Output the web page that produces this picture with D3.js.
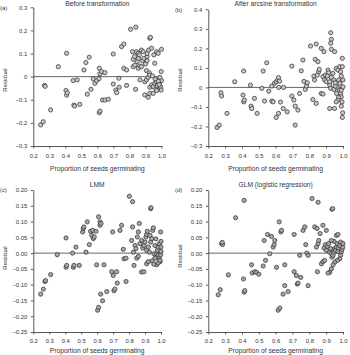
<!DOCTYPE html>
<html><head><meta charset="utf-8">
<script src="https://cdn.jsdelivr.net/npm/d3@7"></script>
<style>
body{margin:0;background:#fff}
svg{display:block}
</style>
</head><body><svg id="chart" width="350" height="355"></svg>
<script>
// ---------- DATA ----------
const panelTitles = ["Before transformation","After arcsine transformation","LMM","GLM (logistic regression)"];
const panelLetters = ["(a)","(b)","(c)","(d)"];
const xAxisTitle = "Proportion of seeds germinating";
const yAxisTitle = "Residual";
const xTicks = [0.2,0.3,0.4,0.5,0.6,0.7,0.8,0.9,1.0];
const yTicksA = [-0.3,-0.2,-0.1,0,0.1,0.2,0.3];
const yTicksB = [-0.3,-0.2,-0.1,0,0.1,0.2,0.3,0.4];
const yTicksCD = [-0.25,-0.20,-0.15,-0.10,-0.05,0,0.05,0.10,0.15,0.20];

// [proportion germinating, residual]
const pointsA = [[0.246,-0.209],[0.262,-0.195],[0.27,-0.038],[0.274,-0.042],[0.308,-0.144],[0.356,0.043],[0.408,0.101],[0.404,-0.06],[0.408,-0.08],[0.412,-0.07],[0.449,-0.017],[0.474,-0.014],[0.453,-0.123],[0.458,-0.127],[0.49,-0.12],[0.516,0.029],[0.528,0.061],[0.537,-0.076],[0.549,0.084],[0.56,-0.055],[0.574,-0.009],[0.584,-0.029],[0.595,-0.017],[0.61,-0.009],[0.612,0.036],[0.616,0.012],[0.626,0.022],[0.647,0.017],[0.612,-0.156],[0.616,-0.149],[0.632,-0.101],[0.647,-0.101],[0.668,-0.098],[0.699,0.098],[0.699,-0.032],[0.715,-0.058],[0.72,-0.069],[0.734,-0.007],[0.736,-0.046],[0.751,0.13],[0.765,0.141],[0.765,0.036],[0.782,0.029],[0.782,-0.038],[0.807,0.205],[0.84,0.214],[0.819,0.108],[0.823,0.075],[0.832,0.087],[0.823,0.043],[0.834,0.05],[0.838,-0.055],[0.844,0.108],[0.855,0.101],[0.848,0.065],[0.855,0.079],[0.862,0.094],[0.855,0.036],[0.865,0.046],[0.865,-0.014],[0.875,0.115],[0.886,0.108],[0.882,0.069],[0.89,0.079],[0.875,0.043],[0.9,0.055],[0.91,0.069],[0.91,0.087],[0.91,0.1],[0.92,0.115],[0.927,0.166],[0.931,0.17],[0.938,0.123],[0.952,0.094],[0.969,0.108],[0.979,0.101],[1.0,0.118],[0.958,0.058],[0.998,0.022],[0.906,0.026],[0.923,0.017],[0.896,-0.022],[0.906,-0.014],[0.917,-0.003],[0.927,0.007],[0.896,-0.079],[0.917,-0.089],[0.927,-0.072],[0.948,-0.072],[0.927,-0.046],[0.938,-0.036],[0.948,-0.043],[0.958,-0.029],[0.965,-0.051],[0.969,-0.022],[0.973,-0.04],[0.979,-0.014],[0.985,-0.029],[0.99,-0.051],[0.994,-0.043],[0.998,-0.058],[1.0,-0.017],[0.99,-0.003],[0.98,-0.02],[0.96,-0.01],[0.944,0.003],[0.985,-0.035],[0.97,-0.06]];

const pointsB = [[0.252,-0.205],[0.265,-0.193],[0.275,-0.027],[0.279,-0.044],[0.311,-0.133],[0.357,0.029],[0.41,0.084],[0.406,-0.039],[0.41,-0.074],[0.414,-0.065],[0.45,0.012],[0.454,-0.096],[0.458,-0.108],[0.474,-0.056],[0.49,-0.133],[0.518,-0.005],[0.526,0.084],[0.534,-0.07],[0.547,0.126],[0.559,-0.019],[0.577,0.007],[0.577,-0.07],[0.585,-0.074],[0.593,0.021],[0.603,0.029],[0.613,0.038],[0.617,0.05],[0.623,0.032],[0.619,0.0],[0.603,-0.154],[0.617,-0.133],[0.629,-0.075],[0.645,-0.108],[0.647,0.0],[0.669,-0.125],[0.696,0.109],[0.696,-0.044],[0.708,-0.065],[0.716,-0.096],[0.716,-0.193],[0.732,-0.116],[0.742,-0.031],[0.752,0.085],[0.762,0.14],[0.768,0.031],[0.776,-0.01],[0.782,0.007],[0.788,0.024],[0.807,0.212],[0.821,-0.062],[0.827,0.058],[0.831,0.038],[0.835,0.144],[0.841,0.222],[0.841,-0.082],[0.851,0.132],[0.855,0.08],[0.859,0.092],[0.847,0.063],[0.871,-0.031],[0.881,-0.034],[0.871,0.2],[0.887,0.183],[0.881,0.055],[0.891,0.038],[0.895,0.063],[0.901,0.029],[0.911,0.089],[0.915,0.075],[0.907,0.058],[0.921,0.012],[0.927,-0.005],[0.921,0.029],[0.931,0.051],[0.94,0.072],[0.946,0.038],[0.921,-0.108],[0.95,-0.108],[0.927,0.28],[0.931,0.246],[0.927,0.226],[0.931,0.195],[0.95,0.183],[0.96,0.097],[0.97,0.089],[0.98,0.106],[0.986,0.08],[0.99,0.058],[0.974,0.038],[0.982,0.021],[0.966,0.0],[0.978,-0.014],[0.986,-0.031],[0.99,-0.048],[0.962,-0.031],[0.974,-0.051],[0.99,-0.014],[0.996,0.149],[0.996,0.106],[1.0,0.038],[1.0,0.003],[0.994,-0.074],[0.99,-0.096],[0.998,-0.13],[0.996,-0.154],[0.97,-0.065],[0.96,-0.074],[0.946,-0.01],[0.954,0.007],[0.954,0.024]];

const pointsC = [[0.246,-0.13],[0.263,-0.114],[0.273,-0.09],[0.277,-0.087],[0.309,-0.068],[0.35,-0.005],[0.405,0.048],[0.405,-0.045],[0.409,-0.039],[0.446,0.0],[0.451,-0.045],[0.455,-0.039],[0.467,0.019],[0.488,-0.039],[0.509,0.067],[0.513,0.078],[0.517,0.083],[0.53,0.003],[0.538,0.099],[0.551,0.027],[0.559,0.069],[0.566,0.056],[0.572,0.072],[0.576,0.046],[0.582,0.051],[0.593,0.069],[0.597,-0.037],[0.603,-0.181],[0.609,-0.172],[0.609,0.115],[0.618,0.099],[0.618,0.088],[0.624,0.094],[0.622,-0.13],[0.634,-0.151],[0.643,-0.037],[0.66,-0.122],[0.697,0.067],[0.691,-0.059],[0.701,-0.071],[0.705,-0.119],[0.711,-0.114],[0.722,-0.059],[0.726,-0.095],[0.743,0.072],[0.753,0.088],[0.764,0.012],[0.768,-0.018],[0.781,-0.016],[0.781,-0.09],[0.802,0.18],[0.822,0.163],[0.816,0.04],[0.827,0.003],[0.822,0.083],[0.831,-0.039],[0.837,0.024],[0.843,0.014],[0.852,0.051],[0.858,0.067],[0.848,-0.016],[0.858,-0.01],[0.864,0.094],[0.868,0.03],[0.879,0.04],[0.885,0.016],[0.893,0.024],[0.9,0.035],[0.906,0.051],[0.91,0.059],[0.914,0.069],[0.91,0.009],[0.921,0.019],[0.927,0.003],[0.931,0.056],[0.935,0.035],[0.942,0.046],[0.948,0.072],[0.952,0.08],[0.962,0.024],[0.956,-0.002],[0.962,-0.016],[0.973,-0.002],[0.977,0.009],[0.983,0.019],[0.99,0.03],[0.983,-0.007],[0.99,-0.018],[0.994,-0.027],[0.998,-0.005],[1.0,0.005],[0.973,-0.037],[0.983,-0.031],[0.994,-0.023],[1.0,0.019],[0.998,0.067],[1.0,0.037],[0.878,-0.06],[0.893,-0.059],[0.91,-0.034],[0.921,-0.027],[0.935,0.141],[0.937,0.144],[0.968,0.045],[0.945,-0.025],[0.955,-0.035]];

const pointsD = [[0.259,-0.132],[0.271,-0.116],[0.279,0.03],[0.285,0.027],[0.283,0.034],[0.319,-0.069],[0.362,0.112],[0.413,0.167],[0.409,-0.082],[0.413,-0.124],[0.417,-0.119],[0.457,-0.037],[0.461,-0.063],[0.477,-0.059],[0.486,-0.061],[0.5,-0.067],[0.526,-0.041],[0.532,0.04],[0.54,-0.023],[0.552,0.059],[0.565,-0.002],[0.575,0.053],[0.585,0.019],[0.591,0.027],[0.595,0.04],[0.605,-0.045],[0.615,-0.181],[0.625,-0.174],[0.621,0.099],[0.631,0.067],[0.635,0.072],[0.644,-0.13],[0.654,-0.037],[0.654,-0.103],[0.674,-0.122],[0.71,0.059],[0.71,-0.059],[0.723,-0.071],[0.729,-0.098],[0.733,-0.095],[0.743,-0.007],[0.749,-0.077],[0.763,0.072],[0.773,0.083],[0.779,0.027],[0.785,0.0],[0.793,-0.007],[0.793,-0.103],[0.816,0.173],[0.832,0.083],[0.846,0.078],[0.852,0.161],[0.842,0.019],[0.852,0.03],[0.856,0.04],[0.864,0.062],[0.848,-0.059],[0.872,-0.034],[0.881,-0.027],[0.891,-0.023],[0.881,0.088],[0.901,0.072],[0.887,0.016],[0.895,0.027],[0.901,0.009],[0.907,0.022],[0.915,0.03],[0.921,0.003],[0.927,0.014],[0.931,-0.002],[0.935,-0.013],[0.941,-0.007],[0.947,0.003],[0.951,0.014],[0.955,0.009],[0.961,0.019],[0.966,0.03],[0.97,0.005],[0.974,0.016],[0.98,0.024],[0.986,0.035],[0.99,0.003],[0.994,0.012],[0.998,0.019],[1.0,0.03],[0.986,-0.007],[0.98,-0.018],[0.966,-0.023],[0.951,-0.029],[0.941,-0.037],[0.931,-0.05],[0.921,-0.061],[0.911,-0.063],[0.947,0.037],[0.961,0.056],[0.97,0.059],[0.931,0.04],[0.935,0.139],[0.939,0.141]];

// ---------- LAYOUT ----------
const panels = [
  {pts: pointsA, yTicks: yTicksA, fmt: d => d === 0 ? "0" : d3.format(".1f")(d), L:33.3, R:161.5, T:7.3, B:146, xPad:5.0, titleY:5.6, xTitleY:171, ylx:4.6, yly:80, fill:"#c8c8c8"},
  {pts: pointsB, yTicks: yTicksB, fmt: d => d === 0 ? "0" : d3.format(".1f")(d), L:208.3, R:343, T:9.3, B:146, xPad:5.0, titleY:5.6, xTitleY:171, ylx:179.6, yly:80, fill:"#c8c8c8"},
  {pts: pointsC, yTicks: yTicksCD, fmt: d3.format(".2f"), L:33.3, R:161, T:190, B:332, xPad:4.2, titleY:186.7, xTitleY:353, ylx:4.6, yly:258, fill:"#a8a8a8"},
  {pts: pointsD, yTicks: yTicksCD, fmt: d3.format(".2f"), L:208.3, R:343, T:190, B:332, xPad:4.2, titleY:186.7, xTitleY:353, ylx:179.6, yly:256, fill:"#a8a8a8"}
];
const FONT = '"Liberation Sans",Arial,Helvetica,sans-serif';
const INK = "#333333";
const svg = d3.select("#chart");

panels.forEach((p, i) => {
  const yDom = d3.extent(p.yTicks);
  const x = d3.scaleLinear().domain([0.2, 1.0]).range([p.L, p.R]);
  const y = d3.scaleLinear().domain(yDom).range([p.B, p.T]);
  const g = svg.append("g").attr("font-family", FONT);

  // zero reference line
  g.append("line")
    .attr("x1", x(0.2)).attr("x2", x(1.0))
    .attr("y1", y(0)).attr("y2", y(0))
    .attr("stroke", "#555").attr("stroke-width", 0.9);

  // axes
  const xa = g.append("g").attr("transform", `translate(0,${p.B})`)
    .call(d3.axisBottom(x).tickValues(xTicks).tickSize(2.5).tickSizeOuter(0)
      .tickPadding(p.xPad).tickFormat(d3.format(".1f")));
  const ya = g.append("g").attr("transform", `translate(${p.L},0)`)
    .call(d3.axisLeft(y).tickValues(p.yTicks).tickSize(2.5).tickSizeOuter(0)
      .tickPadding(3.5).tickFormat(p.fmt));
  [xa, ya].forEach(a => {
    a.attr("font-size", 5.9).attr("font-family", FONT);
    a.selectAll("path,line").attr("stroke", "#444").attr("stroke-width", 0.9);
    a.selectAll("text").attr("fill", INK);
  });

  // points
  g.append("g").selectAll("circle").data(p.pts).join("circle")
    .attr("cx", d => x(d[0])).attr("cy", d => y(d[1]))
    .attr("r", 2.1)
    .attr("fill", p.fill).attr("stroke", "#333").attr("stroke-width", 0.75);

  // titles & labels
  g.append("text").attr("x", (p.L + p.R) / 2).attr("y", p.titleY).attr("fill", INK)
    .attr("text-anchor", "middle").attr("font-size", 6.7).text(panelTitles[i]);
  g.append("text").attr("x", (p.L + p.R) / 2).attr("y", p.xTitleY).attr("fill", INK)
    .attr("text-anchor", "middle").attr("font-size", 6.7).text(xAxisTitle);
  g.append("text").attr("transform", `translate(${p.ylx},${p.yly}) rotate(-90)`).attr("fill", INK)
    .attr("text-anchor", "middle").attr("dy", "0.35em").attr("font-size", 6).text(yAxisTitle);
  g.append("text").attr("x", p.L - 33.3).attr("y", p.T + 2.2).attr("fill", INK)
    .attr("font-size", 5.8).text(panelLetters[i]);
});
</script>
</body></html>
